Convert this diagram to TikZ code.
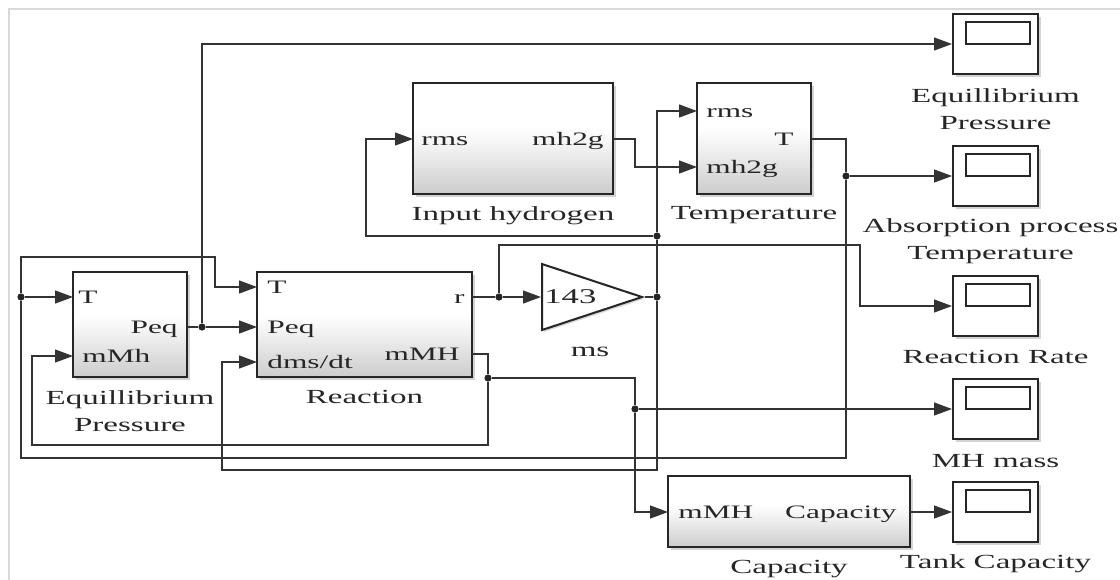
\documentclass[tikz,border=0pt]{standalone}
\usepackage{fontspec}
\setmainfont{Liberation Serif}[FakeStretch=1.65]
\usepackage{tikz}
\usetikzlibrary{
  shapes.geometric, arrows.meta, positioning, shadows
}
\pgfdeclareverticalshading{blockgrad}{100bp}{%
  color(0bp)=(black!20); color(25bp)=(black!20); color(45bp)=(black!6);
  color(55bp)=(white); color(100bp)=(white)}

\begin{document}
\begin{tikzpicture}[
    x=0.5pt, y=-0.5pt,
    font=\fontsize{10}{13.5}\selectfont,
    text=black!85,
    >={Triangle[length=9pt, width=6.5pt]},
    block/.style={rectangle, draw=black!85, line width=1pt, shade, shading=blockgrad, minimum width=#1, inner sep=0pt, drop shadow={shadow xshift=1.5pt, shadow yshift=-1.5pt, opacity=0.35}},
    scopebox/.style={rectangle, draw=black!85, line width=1pt, fill=white, minimum width=42.5pt, minimum height=30pt, inner sep=0pt, drop shadow={shadow xshift=1.5pt, shadow yshift=-1.5pt, opacity=0.35},
      path picture={\draw[black!85, line width=1pt] ([shift={(6.25pt,-4pt)}]path picture bounding box.north west) rectangle ++(32pt,-11pt);}},
    gain/.style={isosceles triangle, isosceles triangle stretches, draw=black!85, line width=1pt, fill=white, minimum width=33pt, minimum height=50pt, inner sep=0pt, drop shadow={shadow xshift=1pt, shadow yshift=-1pt, opacity=0.3}},
    port/.style={inner sep=0pt, font=\fontsize{9.5}{11}\selectfont, text height=1.4ex, text depth=0pt},
    lbl/.style={inner sep=0pt, align=center},
    junc/.style={circle, fill=black!85, inner sep=0pt, minimum size=3.6pt},
    wire/.style={draw=black!80, line width=0.6pt},
    arrow/.style={->, line width=0.6pt, color=#1},
]
    \useasboundingbox (0,0) rectangle (1120,579);

    % canvas edge
    \draw[black!15, line width=1pt] (9,585) |- (1125,9);

    % Blocks
    \node[block=57pt, minimum height=52.5pt] (eqp) at (130,324.5) {};
    \node[block=107.5pt, minimum height=52.5pt] (rxn) at (364.5,324.5) {};
    \node[block=100pt, minimum height=55.5pt] (inh) at (513,138.5) {};
    \node[block=57pt, minimum height=55.5pt] (tmp) at (754,138.5) {};
    \node[block=121pt, minimum height=35.5pt] (cap) at (789,511.5) {};
    \node[gain, anchor=west] (gain) at (541,297) {};

    % Scopes
    \node[scopebox] (sc1) at (995.5,44) {};
    \node[scopebox] (sc2) at (995.5,176) {};
    \node[scopebox] (sc3) at (995.5,306) {};
    \node[scopebox] (sc4) at (995.5,409) {};
    \node[scopebox] (sc5) at (995.5,512) {};

    % Ports
    \coordinate (eqpT) at (73,297);
    \coordinate (eqpM) at (73,356);
    \coordinate (eqpP) at (187,327);
    \coordinate (rxnT) at (257,287);
    \coordinate (rxnP) at (257,327);
    \coordinate (rxnD) at (257,362);
    \coordinate (rxnR) at (472,297);
    \coordinate (rxnM) at (472,354);
    \coordinate (inhI) at (413,139);
    \coordinate (inhO) at (613,139);
    \coordinate (tmpR) at (697,111);
    \coordinate (tmpM) at (697,167);
    \coordinate (tmpT) at (811,139);
    \coordinate (capI) at (668,512);
    \coordinate (capO) at (910,512);

    \node[port, anchor=west] at ([xshift=2.5pt]eqpT) {T};
    \node[port, anchor=east] at ([xshift=-4.5pt]eqpP) {Peq};
    \node[port, anchor=west] at ([xshift=4.5pt]eqpM) {mMh};
    \node[port, anchor=west] at ([xshift=5pt]rxnT) {T};
    \node[port, anchor=west] at ([xshift=5pt]rxnP) {Peq};
    \node[port, anchor=west] at ([xshift=5pt]rxnD) {dms/dt};
    \node[port, anchor=east] at ([xshift=-3.5pt]rxnR) {r};
    \node[port, anchor=east] at ([xshift=-6pt]rxnM) {mMH};
    \node[port, anchor=west] at ([xshift=4pt]inhI) {rms};
    \node[port, anchor=east] at ([xshift=-4.5pt]inhO) {mh2g};
    \node[port, anchor=west] at ([xshift=4.5pt]tmpR) {rms};
    \node[port, anchor=west] at ([xshift=4.5pt]tmpM) {mh2g};
    \node[port, anchor=east] at ([xshift=-8.5pt]tmpT) {T};
    \node[port, anchor=west] at ([xshift=5pt]capI) {mMH};
    \node[port, anchor=east] at ([xshift=-6.5pt]capO) {Capacity};
    \node[port, anchor=west, font=\fontsize{10.5}{12}\selectfont] at ([xshift=1.5pt]gain.west) {143};

    % Labels
    \node[lbl, below=6pt of eqp] (eqplbl) {Equillibrium\\Pressure};
    \node[lbl, below=6pt of rxn] (rxnlbl) {Reaction};
    \node[lbl, below=5.5pt of inh] (inhlbl) {Input hydrogen};
    \node[lbl, below=5.5pt of tmp] (tmplbl) {Temperature};
    \node[lbl, below=6pt of cap] (caplbl) {Capacity};
    \node[lbl] (gainlbl) at (590,352) {ms};
    \node[lbl, below=6.5pt of sc1] (sc1lbl) {Equillibrium\\Pressure};
    \node[lbl, below=5.5pt of sc2, xshift=-2.5pt] (sc2lbl) {Absorption process\\Temperature};
    \node[lbl, below=6.5pt of sc3] (sc3lbl) {Reaction Rate};
    \node[lbl, below=7pt of sc4] (sc4lbl) {MH mass};
    \node[lbl, below=5.5pt of sc5] (sc5lbl) {Tank Capacity};

    % Junctions
    \node[junc] (jT) at (21,297) {};
    \node[junc] (jPeq) at (202,327) {};
    \node[junc] (jr) at (499,297) {};
    \node[junc] (jms) at (657,297) {};
    \node[junc] (jrms) at (657,236) {};
    \node[junc] (jmMH) at (488,378) {};
    \node[junc] (jmass) at (635,409) {};
    \node[junc] (jTemp) at (846,176) {};

    % Wires
    \draw[wire] (eqpP) -- (jPeq);
    \draw[arrow=black!80] (jPeq) -- (rxnP);
    \draw[arrow=black!80] (jPeq) |- (sc1);
    \draw[wire] (rxnR) -- (jr);
    \draw[arrow=black!80] (jr) -- (gain.west);
    \draw[wire] (gain.apex) -- (jms);
    \draw[wire] (jms) -- (jrms);
    \draw[arrow=black!80] (jrms) |- (tmpR);
    \draw[arrow=black!80] (jrms) -| (366,139) -- (inhI);
    \draw[arrow=black!80] (inhO) -| (635,153) |- (tmpM);
    \draw[wire] (tmpT) -| (jTemp);
    \draw[arrow=black!80] (jTemp) -- (sc2);
    \draw[wire] (jTemp) |- (400,458) -| (jT);
    \draw[arrow=black!80] (jT) -- (eqpT);
    \draw[arrow=black!80] (jT) |- (215,257) |- (rxnT);
    \draw[arrow=black!80] (jr) |- (860,245) |- (sc3);
    \draw[wire] (rxnM) -| (jmMH);
    \draw[arrow=black!80] (jmMH) |- (32,445) |- (eqpM);
    \draw[wire] (jmMH) -| (jmass);
    \draw[arrow=black!80] (jmass) -- (sc4);
    \draw[arrow=black!80] (jmass) |- (capI);
    \draw[arrow=black!80] (capO) -- (sc5);
    \draw[arrow=black!80] (jms) |- (222,470) |- (rxnD);

\end{tikzpicture}
\end{document}
